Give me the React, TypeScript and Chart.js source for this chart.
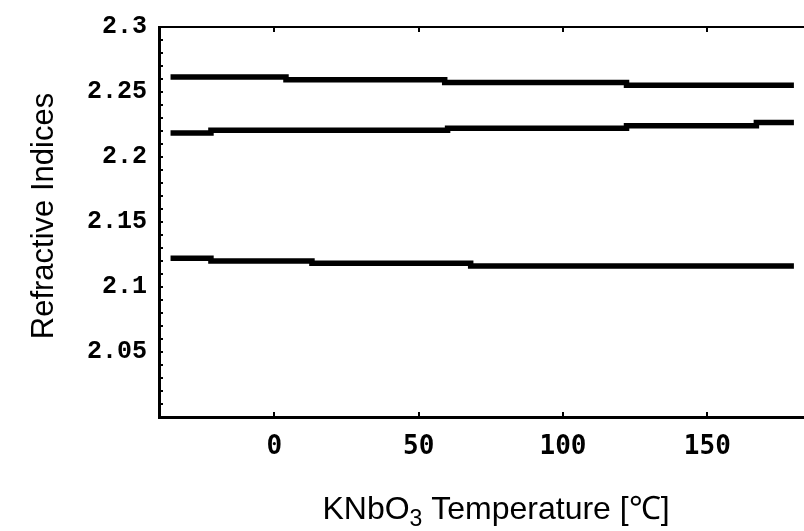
import React, { useEffect, useRef } from 'react';
import { Chart, registerables } from 'chart.js';

Chart.register(...registerables);

// Axis ranges and tick values
const X_MIN = -40;
const X_MAX = 183.5;
const Y_MIN = 2.0;
const Y_MAX = 2.3;
const xTickValues = [0, 50, 100, 150];
const yTickValues = [2.05, 2.1, 2.15, 2.2, 2.25, 2.3];
const yMinorTicks = [2.01, 2.02, 2.03, 2.04, 2.06, 2.07, 2.08, 2.09, 2.11, 2.12, 2.13, 2.14, 2.16, 2.17, 2.18, 2.19, 2.21, 2.22, 2.23, 2.24, 2.26, 2.27, 2.28, 2.29];

// Series (temperature in °C, refractive index) – step curves
const upperT = [-36, 4, 59, 122, 180];
const upperN = [2.2615, 2.2595, 2.2573, 2.2552, 2.2552];
const middleT = [-36, -22, 60, 122, 167, 180];
const middleN = [2.2185, 2.2205, 2.2222, 2.224, 2.2266, 2.2266];
const lowerT = [-36, -22, 13, 68, 180];
const lowerN = [2.1222, 2.12, 2.1182, 2.1162, 2.1162];

const xTitleMain = 'KNbO';
const xTitleSub = '3';
const xTitleRest = ' Temperature [℃]';
const yTitle = 'Refractive Indices';

const toPoints = (xs: number[], ys: number[]) => xs.map((x, i) => ({ x, y: ys[i] }));

const framePlugin = {
  id: 'frameDecor',
  afterDraw(chart: any) {
    const ctx = chart.ctx;
    const { left, top, bottom } = chart.chartArea;
    const xs = chart.scales.x;
    const ys = chart.scales.y;
    ctx.save();
    ctx.strokeStyle = '#000';
    ctx.fillStyle = '#000';
    // top frame line
    ctx.lineWidth = 2;
    ctx.beginPath();
    ctx.moveTo(left, top);
    ctx.lineTo(chart.width, top);
    ctx.stroke();
    // y ticks (inside)
    ctx.lineWidth = 2;
    [...yTickValues, ...yMinorTicks].forEach((v) => {
      const py = Math.round(ys.getPixelForValue(v));
      ctx.beginPath();
      ctx.moveTo(left, py);
      ctx.lineTo(left + 4, py);
      ctx.stroke();
    });
    // x ticks, bottom (up) and top (down)
    xTickValues.forEach((v) => {
      const px = Math.round(xs.getPixelForValue(v));
      ctx.beginPath();
      ctx.moveTo(px, bottom);
      ctx.lineTo(px, bottom - 5);
      ctx.moveTo(px, top);
      ctx.lineTo(px, top + 5);
      ctx.stroke();
    });
    // y title
    ctx.font = '31px "Liberation Sans", Arial, sans-serif';
    ctx.textAlign = 'center';
    ctx.textBaseline = 'alphabetic';
    ctx.save();
    ctx.translate(53, (top + bottom) / 2 - 6);
    ctx.rotate(-Math.PI / 2);
    ctx.fillText(yTitle, 0, 0);
    ctx.restore();
    // x title with subscript
    const mainFont = '32px "Liberation Sans", Arial, sans-serif';
    const subFont = '23px "Liberation Sans", Arial, sans-serif';
    ctx.font = mainFont;
    const w1 = ctx.measureText(xTitleMain).width;
    const w3 = ctx.measureText(xTitleRest).width;
    ctx.font = subFont;
    const w2 = ctx.measureText(xTitleSub).width;
    const total = w1 + w2 + w3;
    const cx = 496;
    const baseY = 519;
    let x0 = cx - total / 2;
    ctx.textAlign = 'left';
    ctx.font = mainFont;
    ctx.fillText(xTitleMain, x0, baseY);
    x0 += w1;
    ctx.font = subFont;
    ctx.fillText(xTitleSub, x0, baseY + 7);
    x0 += w2;
    ctx.font = mainFont;
    ctx.fillText(xTitleRest, x0, baseY);
    ctx.restore();
  },
};

export default function App() {
  const canvasRef = useRef<HTMLCanvasElement | null>(null);

  useEffect(() => {
    const canvas = canvasRef.current;
    if (!canvas) return;
    const lineStyle = {
      borderColor: '#000',
      backgroundColor: '#000',
      borderWidth: 5.5,
      pointRadius: 0,
      stepped: true as const,
      fill: false,
      borderCapStyle: 'butt' as const,
    };
    const chart = new Chart(canvas, {
      type: 'line',
      data: {
        datasets: [
          { label: 'upper', data: toPoints(upperT, upperN), ...lineStyle },
          { label: 'middle', data: toPoints(middleT, middleN), ...lineStyle },
          { label: 'lower', data: toPoints(lowerT, lowerN), ...lineStyle },
        ],
      },
      options: {
        animation: false,
        responsive: false,
        devicePixelRatio: 1,
        layout: { padding: { top: 22, right: 0, left: 0, bottom: 0 } },
        plugins: {
          legend: { display: false },
          tooltip: { enabled: false },
          title: { display: false },
        },
        scales: {
          x: {
            type: 'linear',
            min: X_MIN,
            max: X_MAX,
            afterBuildTicks: (scale: any) => {
              scale.ticks = xTickValues.map((v) => ({ value: v }));
            },
            afterFit: (scale: any) => {
              scale.height = 114;
            },
            grid: { display: false, drawTicks: false },
            border: { display: true, color: '#000', width: 3 },
            ticks: {
              padding: 15,
              color: '#000',
              maxRotation: 0,
              autoSkip: false,
              font: { family: '"DejaVu Sans Mono", monospace', size: 26, weight: 'bold' },
              callback: (v: any) => String(v),
            },
          },
          y: {
            type: 'linear',
            min: Y_MIN,
            max: Y_MAX,
            afterBuildTicks: (scale: any) => {
              scale.ticks = yTickValues.map((v) => ({ value: v }));
            },
            afterFit: (scale: any) => {
              scale.width = 159;
            },
            grid: { display: false, drawTicks: false },
            border: { display: true, color: '#000', width: 3 },
            ticks: {
              padding: 12,
              color: '#000',
              autoSkip: false,
              font: { family: '"Liberation Mono", "Courier New", monospace', size: 25, weight: 'bold' },
              callback: (v: any) => String(Number(Number(v).toFixed(2))),
            },
          },
        },
      },
      plugins: [framePlugin],
    });
    return () => chart.destroy();
  }, []);

  return (
    <div style={{ position: 'fixed', left: 0, top: 0, width: 804, height: 531, background: '#fff' }}>
      <canvas ref={canvasRef} width={804} height={531} style={{ display: 'block' }} />
    </div>
  );
}
